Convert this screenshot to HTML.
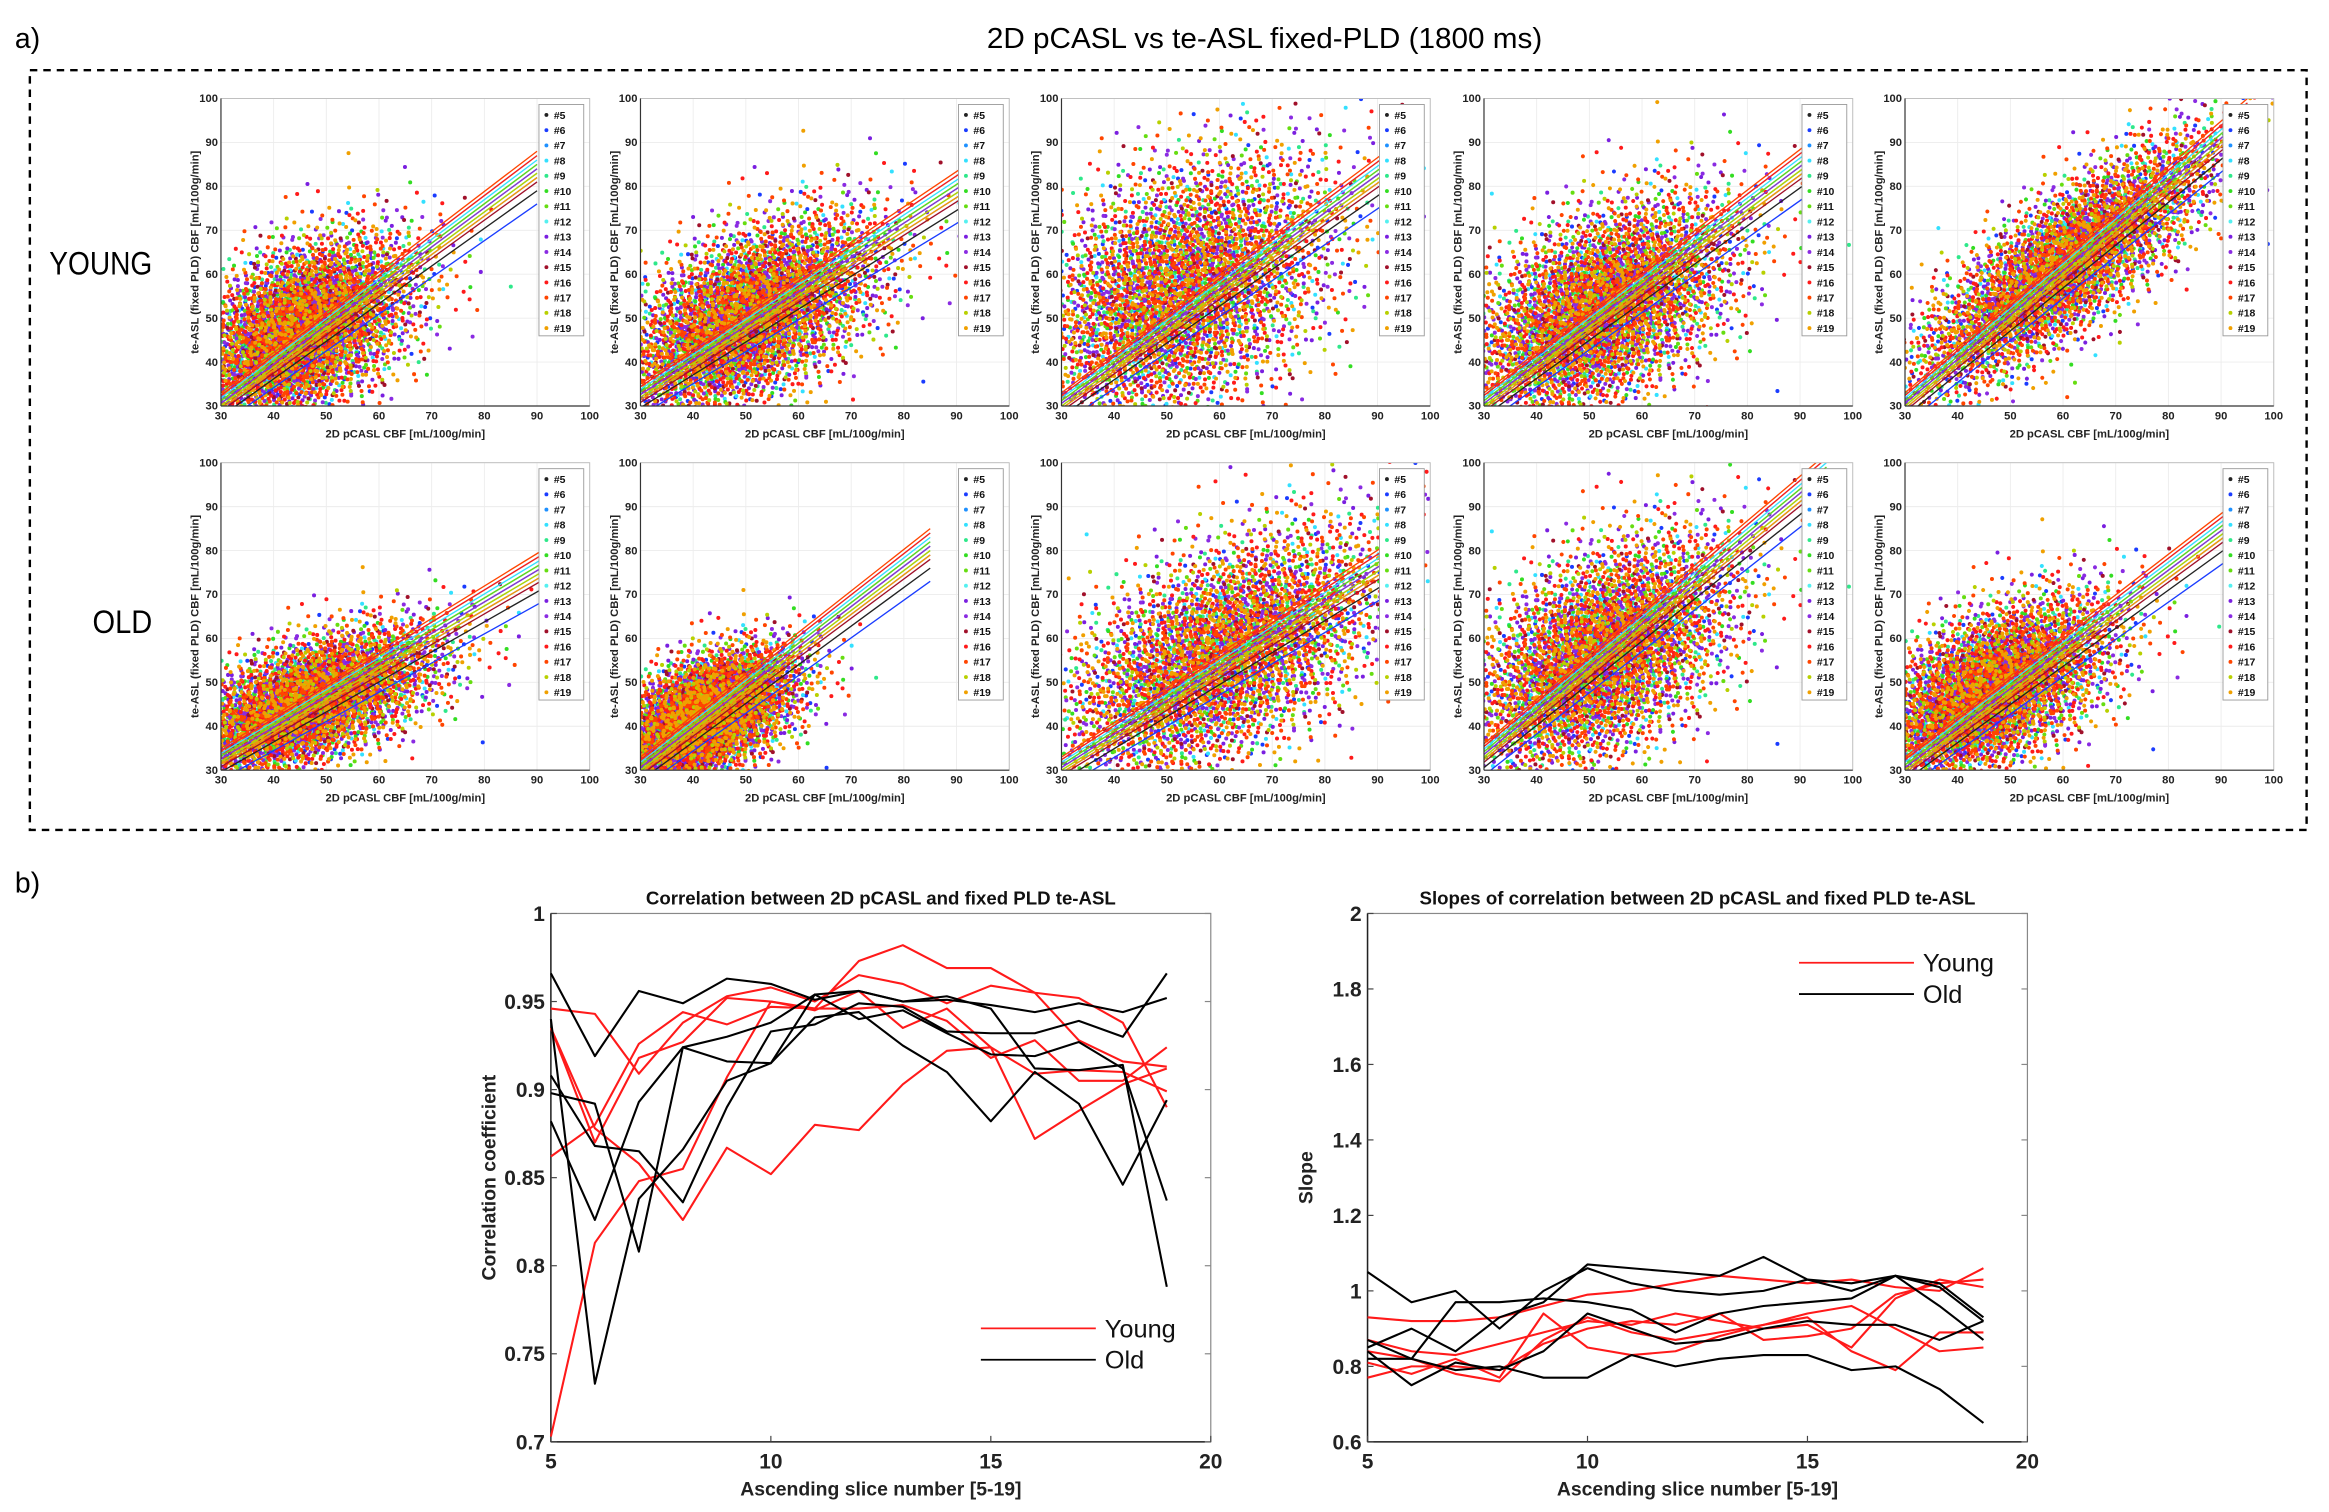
<!DOCTYPE html>
<html><head><meta charset="utf-8"><style>
html,body{margin:0;padding:0;background:#fff;}
svg{display:block;}
text{font-family:"Liberation Sans",sans-serif;}
</style></head><body>
<svg id="fig" width="2329" height="1512" viewBox="0 0 1560 1013" preserveAspectRatio="none" xmlns="http://www.w3.org/2000/svg">
<rect x="0" y="0" width="1560" height="1013" fill="#fff"/>
<text x="10" y="32" font-size="19">a)</text>
<text x="847" y="32" font-size="19" text-anchor="middle" textLength="372" lengthAdjust="spacingAndGlyphs">2D pCASL vs te-ASL fixed-PLD (1800 ms)</text>
<rect x="20" y="47" width="1525" height="509" fill="none" stroke="#000" stroke-width="1.6" stroke-dasharray="5,4"/>
<text x="33" y="184" font-size="22" textLength="69" lengthAdjust="spacingAndGlyphs">YOUNG</text>
<text x="62" y="424" font-size="22" textLength="40" lengthAdjust="spacingAndGlyphs">OLD</text>
<text x="10" y="598" font-size="19">b)</text>
<g id="scatters"></g>
<g id="bottom"></g>
</svg>
<script>
// ---------- scatter data ----------
const subjects = ["#5","#6","#7","#8","#9","#10","#11","#12","#13","#14","#15","#16","#17","#18","#19"];
const subjColors = ["#222222","#1a3cff","#1e90ff","#33e0ff","#2ee88a","#33dd22","#66dd11","#55f0f0","#7a1fe0","#8a2be2","#a0102a","#ff1a1a","#ff4500","#b8d000","#f0a000"];
const cloudCx = [45,50,52,52,60,46,42,60,52,46];
const cloudCy = [47,50,56,52,62,45,42,56,56,48];
const cloudSx = [11,13,15,13,15,13,9,16,13,12];
const cloudSy = [11,12,16,13,15,9,8,15,14,11];
const cloudRho = [0.45,0.55,0.4,0.5,0.82,0.6,0.5,0.55,0.5,0.55];
const lineX1 = [30,30,30,30,30,30,30,30,30,30];
const lineY1 = [30,32,30,30,30,32,30,30,33,30];
const lineX2 = [90,92,95,95,95,95,85,95,95,95];
const lineY2 = [83,80,86,88,95,78,80,79,97,88];
const lineOffsets = [-4,-7,2,3,0,1,2,4,-1,1,-2,4,5,0,-1];
const axisTicks = [30,40,50,60,70,80,90,100];
// ---------- line chart data ----------
const slices = [5,6,7,8,9,10,11,12,13,14,15,16,17,18,19];
const corrYoung = [
 [0.946,0.943,0.909,0.938,0.953,0.958,0.950,0.965,0.960,0.949,0.959,0.955,0.928,0.916,0.913],
 [0.935,0.870,0.918,0.927,0.952,0.950,0.946,0.973,0.982,0.969,0.969,0.955,0.952,0.938,0.890],
 [0.862,0.880,0.926,0.944,0.937,0.947,0.946,0.946,0.948,0.939,0.918,0.928,0.905,0.905,0.924],
 [0.935,0.878,0.858,0.826,0.867,0.852,0.880,0.877,0.903,0.922,0.924,0.872,0.888,0.903,0.912],
 [0.703,0.813,0.848,0.855,0.907,0.950,0.945,0.956,0.935,0.946,0.924,0.909,0.911,0.910,0.899]];
const corrOld = [
 [0.966,0.919,0.956,0.949,0.963,0.960,0.951,0.956,0.950,0.951,0.948,0.944,0.949,0.944,0.952],
 [0.940,0.733,0.838,0.866,0.905,0.915,0.941,0.944,0.925,0.910,0.882,0.910,0.892,0.846,0.894],
 [0.908,0.868,0.865,0.836,0.890,0.933,0.937,0.949,0.947,0.933,0.932,0.932,0.939,0.930,0.966],
 [0.898,0.892,0.808,0.924,0.916,0.915,0.954,0.956,0.950,0.953,0.946,0.912,0.911,0.914,0.788],
 [0.882,0.826,0.893,0.924,0.930,0.938,0.954,0.940,0.945,0.932,0.920,0.919,0.927,0.912,0.837]];
const slopeYoung = [
 [0.93,0.92,0.92,0.93,0.96,0.99,1.00,1.02,1.04,1.03,1.02,1.03,1.01,1.00,1.06],
 [0.87,0.84,0.83,0.86,0.89,0.92,0.91,0.94,0.92,0.90,0.91,0.85,0.98,1.03,1.01],
 [0.84,0.82,0.78,0.76,0.87,0.93,0.89,0.87,0.89,0.91,0.94,0.96,0.90,0.84,0.85],
 [0.81,0.78,0.82,0.77,0.94,0.85,0.83,0.84,0.88,0.91,0.93,0.84,0.79,0.89,0.89],
 [0.77,0.80,0.80,0.79,0.86,0.90,0.92,0.91,0.94,0.87,0.88,0.90,0.99,1.02,1.03]];
const slopeOld = [
 [1.05,0.97,1.00,0.90,1.00,1.06,1.02,1.00,0.99,1.00,1.03,1.00,1.04,1.02,0.93],
 [0.84,0.75,0.81,0.79,0.84,0.94,0.90,0.86,0.87,0.90,0.92,0.91,0.91,0.87,0.92],
 [0.85,0.90,0.84,0.93,0.97,1.07,1.06,1.05,1.04,1.09,1.03,1.02,1.04,1.01,0.92],
 [0.87,0.82,0.97,0.97,0.98,0.97,0.95,0.89,0.94,0.96,0.97,0.98,1.04,0.96,0.87],
 [0.82,0.82,0.79,0.80,0.77,0.77,0.83,0.80,0.82,0.83,0.83,0.79,0.80,0.74,0.65]];
const corrTicks = [0.7,0.75,0.8,0.85,0.9,0.95,1];
const corrTickLabels = ["0.7","0.75","0.8","0.85","0.9","0.95","1"];
const slopeTicks = [0.6,0.8,1,1.2,1.4,1.6,1.8,2];
const slopeTickLabels = ["0.6","0.8","1","1.2","1.4","1.6","1.8","2"];
const xTicks = [5,10,15,20];

const NS = "http://www.w3.org/2000/svg";
function mk(tag, attrs, parent){const e=document.createElementNS(NS,tag);for(const k in attrs)e.setAttribute(k,attrs[k]);parent.appendChild(e);return e;}
function halton(i,b){let f=1,r=0;while(i>0){f/=b;r+=f*(i%b);i=Math.floor(i/b);}return r;}

// ---------- scatter panels ----------
const panelLefts = [148,429,711,994,1276];
const panelTops = [66,310];
const PW = 247, PH = 206;
const sc = document.getElementById('scatters');
const cloudColorIdx = [11,14,8,5,12,3,9,13,10,4,11,14,6,12,8,1,11,12,14,9];
for(let p=0;p<10;p++){
  const row = Math.floor(p/5), col = p%5;
  const L = panelLefts[col], T = panelTops[row];
  const sx = v => L + (v-30)/70*PW;
  const sy = v => T + PH - (v-30)/70*PH;
  const g = mk('g',{},sc);
  
  
  const cid='clip'+p;
  const cp = mk('clipPath',{id:cid},g);
  mk('rect',{x:L,y:T,width:PW,height:PH},cp);
  axisTicks.forEach(t=>{
    mk('line',{x1:sx(t),x2:sx(t),y1:T,y2:T+PH,stroke:'#ececec','stroke-width':0.6},g);
    mk('line',{x1:L,x2:L+PW,y1:sy(t),y2:sy(t),stroke:'#ececec','stroke-width':0.6},g);
  });
  const pts = mk('g',{'clip-path':'url(#'+cid+')'},g);
  
  
  const n = 4000, R = 1.35;
  const rho = cloudRho[p], q = Math.sqrt(1-rho*rho);
  const paths = {};
  for(let i=1;i<=n;i++){
    const u1 = Math.max(halton(i,2),1e-4), u2 = halton(i,3);
    const rr = Math.sqrt(-2*Math.log(u1));
    const u = rr*Math.cos(2*Math.PI*u2), v = rr*Math.sin(2*Math.PI*u2);
    const xv = cloudCx[p] + cloudSx[p]*u;
    const yv = cloudCy[p] + cloudSy[p]*(rho*u + q*v);
    if(xv<29||yv<29) continue;
    const ci = cloudColorIdx[Math.floor(halton(i,5)*cloudColorIdx.length)];
    const X = sx(xv), Y = sy(yv);
    paths[ci] = (paths[ci]||'') + 'M'+(X-R).toFixed(1)+' '+Y.toFixed(1)+'a'+R+' '+R+' 0 1 0 '+(2*R)+' 0a'+R+' '+R+' 0 1 0 '+(-2*R)+' 0';
  }
  for(const ci in paths){ mk('path',{d:paths[ci],fill:subjColors[ci]},pts); }
  const lg = mk('g',{'clip-path':'url(#'+cid+')'},g);
  for(let k=0;k<subjects.length;k++){
    const ln = mk('line',{x1:sx(lineX1[p]),y1:sy(lineY1[p]+lineOffsets[k]*0.6),x2:sx(lineX2[p]),y2:sy(lineY2[p]+lineOffsets[k]),stroke:subjColors[k],'stroke-width':0.9},lg);
    
    
  }
  mk('rect',{x:L,y:T,width:PW,height:PH,fill:'none',stroke:'#bbb','stroke-width':0.6},g);
  mk('line',{x1:L,x2:L+PW,y1:T+PH,y2:T+PH,stroke:'#333','stroke-width':0.8},g);
  mk('line',{x1:L,x2:L,y1:T,y2:T+PH,stroke:'#333','stroke-width':0.8},g);
  axisTicks.forEach(t=>{
    const tx=mk('text',{x:sx(t),y:T+PH+9,'font-size':7.5,'font-weight':'bold','text-anchor':'middle',fill:'#222'},g);
    tx.textContent=t;
    const ty=mk('text',{x:L-2,y:sy(t)+2.5,'font-size':7.5,'font-weight':'bold','text-anchor':'end',fill:'#222'},g);
    ty.textContent=t;
  });
  const xl=mk('text',{x:L+PW/2,y:T+PH+21,'font-size':7.5,'font-weight':'bold','text-anchor':'middle',fill:'#222'},g);
  xl.textContent='2D pCASL CBF [mL/100g/min]';
  
  
  const yl=mk('text',{x:0,y:0,'font-size':7.5,'font-weight':'bold','text-anchor':'middle',fill:'#222',transform:'translate('+(L-15)+','+(T+PH/2)+') rotate(-90)'},g);
  yl.textContent='te-ASL (fixed PLD) CBF [mL/100g/min]';
  
  
  const lgd = mk('g',{},g);
  
  
  const lx = L+PW-34, ly = T+4;
  mk('rect',{x:lx,y:ly,width:30,height:155,fill:'#fff',stroke:'#999','stroke-width':0.6},lgd);
  for(let k=0;k<subjects.length;k++){
    const ey = ly+7+k*10.2;
    const ent = mk('g',{},lgd);
    
    
    mk('circle',{cx:lx+5,cy:ey,r:1.3,fill:subjColors[k]},ent);
    const t=mk('text',{x:lx+10,y:ey+2.6,'font-size':7,'font-weight':'bold',fill:'#111'},ent);
    t.textContent=subjects[k];
  }
}

// ---------- line charts ----------
const bt = document.getElementById('bottom');
function lineChart(L,T,W,H,ymin,ymax,yTicks,yLabels,young,old,title,ylabel,legX,legY,name){
  const g = mk('g',{},bt);
  
  
  const sx = v => L + (v-5)/15*W;
  const sy = v => T + H - (v-ymin)/(ymax-ymin)*H;
  mk('rect',{x:L,y:T,width:W,height:H,fill:'#fff',stroke:'#888','stroke-width':0.8},g);
  mk('line',{x1:L,x2:L+W,y1:T+H,y2:T+H,stroke:'#222','stroke-width':1},g);
  mk('line',{x1:L,x2:L,y1:T,y2:T+H,stroke:'#222','stroke-width':1},g);
  yTicks.forEach((t,i)=>{
    mk('line',{x1:L,x2:L+4,y1:sy(t),y2:sy(t),stroke:'#444','stroke-width':0.8},g);
    mk('line',{x1:L+W-4,x2:L+W,y1:sy(t),y2:sy(t),stroke:'#888','stroke-width':0.8},g);
    const tx=mk('text',{x:L-4,y:sy(t)+5,'font-size':14,'font-weight':'bold','text-anchor':'end',fill:'#222'},g);
    tx.textContent=yLabels[i];
  });
  xTicks.forEach(t=>{
    mk('line',{x1:sx(t),x2:sx(t),y1:T+H,y2:T+H-4,stroke:'#444','stroke-width':0.8},g);
    const tx=mk('text',{x:sx(t),y:T+H+18,'font-size':14,'font-weight':'bold','text-anchor':'middle',fill:'#222'},g);
    tx.textContent=t;
  });
  const tt=mk('text',{x:L+W/2,y:T-6,'font-size':12.5,'font-weight':'bold','text-anchor':'middle',fill:'#111'},g);
  tt.textContent=title;
  
  
  const xl=mk('text',{x:L+W/2,y:T+H+36,'font-size':13,'font-weight':'bold','text-anchor':'middle',fill:'#222'},g);
  xl.textContent='Ascending slice number [5-19]';
  
  
  const yl=mk('text',{x:0,y:0,'font-size':13,'font-weight':'bold','text-anchor':'middle',fill:'#222',transform:'translate('+(L-37)+','+(T+H/2)+') rotate(-90)'},g);
  yl.textContent=ylabel;
  
  
  const draw=(arr,col,nm)=>arr.forEach(s=>{
    const pl=mk('polyline',{points:s.map((v,i)=>sx(slices[i])+','+sy(v)).join(' '),fill:'none',stroke:col,'stroke-width':1.4,'stroke-linejoin':'round'},g);
    
    
  });
  draw(young,'#ff1a1a','young-series');
  draw(old,'#000','old-series');
  const lg=mk('g',{},g);
  
  
  [['Young','#ff1a1a'],['Old','#000']].forEach((e,i)=>{
    const y=legY+i*21;
    const ent=mk('g',{},lg);
    
    
    mk('line',{x1:legX,x2:legX+77,y1:y,y2:y,stroke:e[1],'stroke-width':1.2},ent);
    const t=mk('text',{x:legX+83,y:y+6,'font-size':17,fill:'#111'},ent);
    t.textContent=e[0];
  });
}
lineChart(369,612,442,354,0.7,1,corrTicks,corrTickLabels,corrYoung,corrOld,'Correlation between 2D pCASL and fixed PLD te-ASL','Correlation coefficient',657,890,'correlation-chart');
lineChart(916,612,442,354,0.6,2,slopeTicks,slopeTickLabels,slopeYoung,slopeOld,'Slopes of correlation between 2D pCASL and fixed PLD te-ASL','Slope',1205,645,'slope-chart');
</script>
</body></html>
